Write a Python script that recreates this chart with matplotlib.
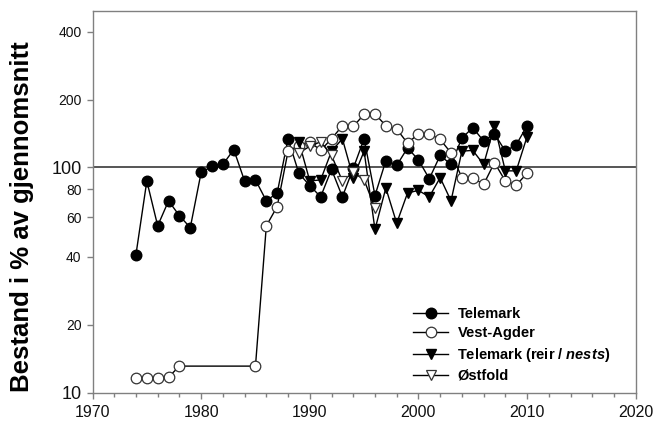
import matplotlib
matplotlib.use("Agg")
import matplotlib.pyplot as plt
from matplotlib.ticker import FixedLocator, FixedFormatter, NullLocator, MultipleLocator

plt.rcParams['font.family'] = ['Liberation Sans', 'DejaVu Sans']
plt.rcParams['mathtext.fontset'] = 'custom'
plt.rcParams['mathtext.it'] = 'Liberation Sans:bold:italic'
plt.rcParams['mathtext.rm'] = 'Liberation Sans:bold'

# Telemark (filled circles)
tel_years = list(range(1974, 2011))
tel_vals = [41, 87, 55, 71, 61, 54, 95, 101, 103, 120, 87, 88, 71, 77, 134, 94,
            83, 74, 98, 74, 99, 134, 75, 107, 102, 122, 108, 89, 113, 103, 135,
            150, 131, 141, 118, 126, 153]

# Vest-Agder (open circles)
va_years = [1974, 1975, 1976, 1977, 1978, 1985] + list(range(1986, 2011))
va_vals = [11.6, 11.6, 11.6, 11.7, 13.1, 13.1, 55, 67, 118, 125, 130, 119, 134,
           153, 152, 172, 173, 153, 148, 128, 141, 141, 133, 116, 90, 90, 84,
           105, 87, 83.5, 94]

# Telemark nests (filled down triangles)
tn_years = list(range(1989, 2011))
tn_vals = [130, 87, 88, 118, 134, 90, 118, 53, 81, 56.5, 77, 79, 74, 90, 71, 118,
           119, 103, 153, 96.5, 96.5, 137]

# Østfold (open down triangles)
os_years = list(range(1989, 1997))
os_vals = [116, 124, 130, 113, 87, 95, 88, 66]

ytick_vals = [10, 20, 40, 60, 80, 100, 200, 400]
ytick_labels = ['10', '20', '40', '60', '80', '100', '200', '400']
xtick_vals = [1970, 1980, 1990, 2000, 2010, 2020]

fig = plt.figure(figsize=(6.57, 4.26), dpi=100)
ax = fig.add_axes([0.1408, 0.0786, 0.8268, 0.8956])

ax.axhline(100, color='#555555', lw=1.4, zorder=1)

ms = 7.6
ax.plot(tel_years, tel_vals, '-o', color='black', lw=1, ms=ms, mfc='black',
        mec='black', label='Telemark', zorder=3)
ax.plot(va_years, va_vals, '-o', color='black', lw=1, ms=ms, mfc='white',
        mec='#333333', mew=0.9, label='Vest-Agder', zorder=4)
ax.plot(tn_years, tn_vals, '-v', color='black', lw=1, ms=ms, mfc='black',
        mec='black', label='Telemark (reir / $\\it{nests}$)', zorder=5)
ax.plot(os_years, os_vals, '-v', color='black', lw=1, ms=ms, mfc='white',
        mec='#333333', mew=0.9, label='Østfold', zorder=6)

ax.set_yscale('log')
ax.set_ylim(10, 495)
ax.set_xlim(1970, 2020)
ax.yaxis.set_major_locator(FixedLocator(ytick_vals))
ax.yaxis.set_major_formatter(FixedFormatter(ytick_labels))
ax.yaxis.set_minor_locator(NullLocator())
ax.xaxis.set_major_locator(FixedLocator(xtick_vals))
ax.xaxis.set_minor_locator(MultipleLocator(2))

for s in ax.spines.values():
    s.set_color('#808080')
    s.set_linewidth(1.0)
ax.tick_params(axis='both', which='both', direction='out', color='#808080',
               width=1.0)
ax.tick_params(axis='both', which='major', length=4)
ax.tick_params(axis='x', which='minor', length=3)
ax.tick_params(axis='x', labelsize=11.5, pad=5, labelcolor='#111111')
ax.tick_params(axis='y', labelsize=10, pad=4, labelcolor='#111111')
for lab in ax.get_yticklabels():
    if lab.get_text() in ('10', '100'):
        lab.set_fontsize(13)

fig.text(0.033, 0.492, 'Bestand i % av gjennomsnitt', rotation=90,
         fontsize=18.5, fontweight='bold', ha='center', va='center')

leg = ax.legend(loc='lower left', bbox_to_anchor=(0.58, 0.01), frameon=False,
                prop={'weight': 'bold', 'size': 10.5}, handlelength=2.4,
                handletextpad=0.62, labelspacing=0.36, borderaxespad=0)

fig.savefig('out.png', dpi=100)
